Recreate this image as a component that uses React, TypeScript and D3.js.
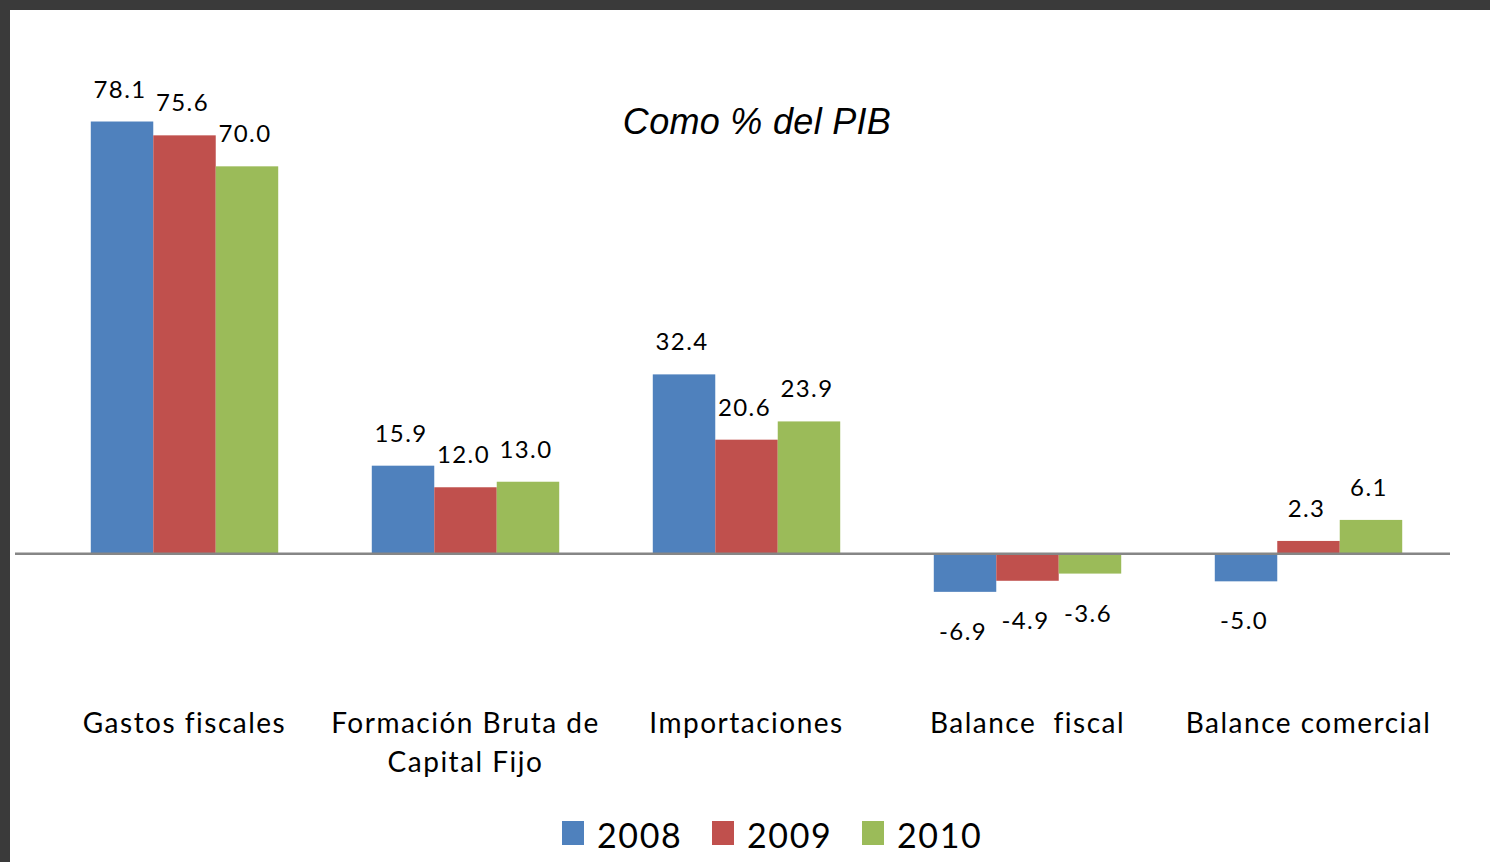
import React from 'react';
import * as d3 from 'd3';

const categories = [
  ['Gastos fiscales'],
  ['Formación Bruta de', 'Capital Fijo'],
  ['Importaciones'],
  ['Balance  fiscal'],
  ['Balance comercial'],
];
const years = ['2008', '2009', '2010'];
const values2008 = [78.1, 15.9, 32.4, -6.9, -5.0];
const values2009 = [75.6, 12.0, 20.6, -4.9, 2.3];
const values2010 = [70.0, 13.0, 23.9, -3.6, 6.1];
const colors = ['#4F81BD', '#C0504D', '#9BBB59'];

const W = 1490;
const H = 862;
const FONT = 'Lato, "Open Sans", sans-serif';

export default function App() {
  const series = [values2008, values2009, values2010];
  const idx = categories.map((_, i) => i);

  const x0 = d3.scaleBand<number>().domain(idx).range([44, 1449])
    .paddingInner(0.333).paddingOuter(0.1665);
  const x1 = d3.scaleBand<number>().domain([0, 1, 2]).range([0, x0.bandwidth()]);
  const y = d3.scaleLinear().domain([-10, 80]).range([609, 111]);

  return (
    <svg width={W} height={H} style={{ position: 'absolute', left: 0, top: 0 }}>
      <rect x={0} y={0} width={W} height={H} fill="#3a3a3a" />
      <rect x={10} y={10} width={W - 10} height={H - 10} fill="#ffffff" />

      <text x={757} y={134} textAnchor="middle" fontFamily='"Liberation Sans", Arial, sans-serif'
        fontStyle="italic" fontSize={36} letterSpacing={0.3} fill="#000">Como % del PIB</text>

      {series.map((vals, s) => (
        <g key={s}>
          {vals.map((v, i) => {
            const bx = (x0(i) as number) + (x1(s) as number);
            const top = Math.min(y(v), y(0));
            const h = Math.abs(y(v) - y(0));
            return (
              <g key={i}>
                <rect x={bx} y={top} width={x1.bandwidth()} height={h} fill={colors[s]} />
                <text x={bx + x1.bandwidth() / 2 - 2} y={v >= 0 ? y(v) - 24 : y(v) + 48}
                  textAnchor="middle" fontFamily={FONT} fontSize={24} letterSpacing={1.4} fill="#000">
                  {v.toFixed(1)}
                </text>
              </g>
            );
          })}
        </g>
      ))}

      <line x1={15} x2={1450} y1={y(0)} y2={y(0)} stroke="#868686" strokeWidth={2.5} />

      {categories.map((lines, i) => (
        <text key={i} textAnchor="middle" fontFamily={FONT} fontSize={28} letterSpacing={1.5} fill="#000">
          {lines.map((l, k) => (
            <tspan key={k} x={(x0(i) as number) + x0.bandwidth() / 2} y={733 + k * 39}
              style={{ whiteSpace: 'pre' }}>{l}</tspan>
          ))}
        </text>
      ))}

      {years.map((yr, s) => (
        <g key={yr} transform={`translate(${562 + s * 150},0)`}>
          <rect x={0} y={821} width={22} height={24} fill={colors[s]} />
          <text x={35} y={848} fontFamily={FONT} fontSize={34} letterSpacing={1.6} fill="#000">{yr}</text>
        </g>
      ))}
    </svg>
  );
}
